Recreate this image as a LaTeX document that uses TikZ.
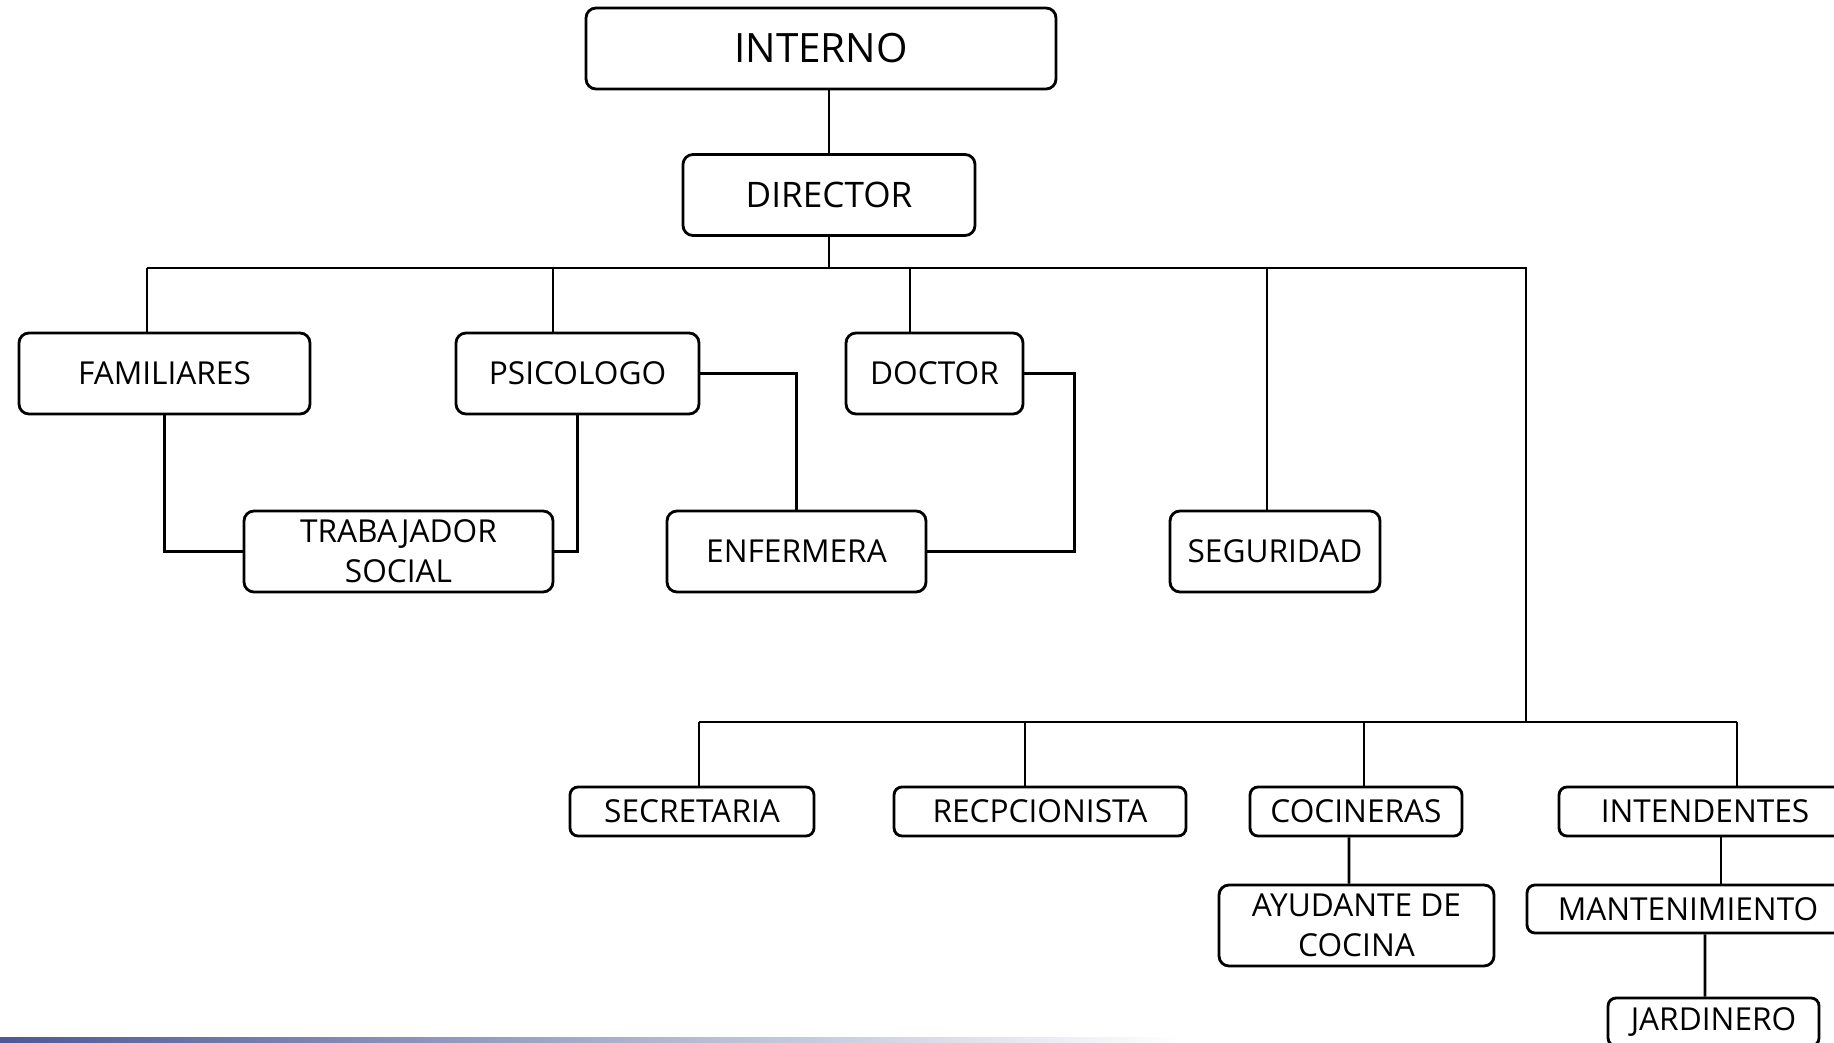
\documentclass[tikz,border=0pt]{standalone}
\usepackage{fontspec}
\setmainfont{Open Sans}
\definecolor{barra}{RGB}{78,88,150}

\begin{document}
\begin{tikzpicture}[
  caja/.style={draw, line width=0.8pt, rounded corners=0.1cm, inner sep=0pt,
    align=center, minimum height=0.81cm, font=\fontsize{9}{11.3}\selectfont},
  cajab/.style={caja, minimum height=0.49cm, rounded corners=0.08cm},
  linea/.style={line width=0.8pt}
]
\clip (0,0) rectangle (18.34,-10.43);
\fill[white] (0,0) rectangle (18.34,-10.43);
\shade[left color=barra, right color=white] (0,-10.37) rectangle (11.8,-10.43);

\node[caja, minimum width=4.70cm, font=\fontsize{11.5}{13}\selectfont] (interno) at (8.21,-0.485) {INTERNO};
\node[caja, minimum width=2.92cm, font=\fontsize{10}{12}\selectfont] (director) at (8.29,-1.95) {DIRECTOR};

\node[caja, minimum width=2.91cm] (familiares) at (1.645,-3.735) {FAMILIARES};
\node[caja, minimum width=2.43cm] (psicologo) at (5.775,-3.735) {PSICOLOGO};
\node[caja, minimum width=1.77cm] (doctor) at (9.345,-3.735) {DOCTOR};
\node[caja, minimum width=3.09cm] (trabajador) at (3.985,-5.515) {TRABAJADOR\\SOCIAL};
\node[caja, minimum width=2.59cm] (enfermera) at (7.965,-5.515) {ENFERMERA};
\node[caja, minimum width=2.10cm] (seguridad) at (12.75,-5.515) {SEGURIDAD};

\node[cajab, minimum width=2.44cm] (secretaria) at (6.92,-8.115) {SECRETARIA};
\node[cajab, minimum width=2.92cm] (recepcionista) at (10.40,-8.115) {RECPCIONISTA};
\node[cajab, minimum width=2.12cm] (cocineras) at (13.56,-8.115) {COCINERAS};
\node[cajab, minimum width=2.92cm] (intendentes) at (17.05,-8.115) {INTENDENTES};
\node[caja, minimum width=2.75cm] (ayudante) at (13.565,-9.255) {AYUDANTE DE\\COCINA};
\node[cajab, minimum width=3.22cm, minimum height=0.48cm] (mantenimiento) at (16.88,-9.09) {MANTENIMIENTO};
\node[cajab, minimum width=2.11cm, minimum height=0.48cm] (jardinero) at (17.135,-10.22) {JARDINERO};

% buses
\coordinate (b1) at (1.47,-2.68);
\coordinate (b2) at (5.53,-2.68);
\coordinate (b3) at (9.10,-2.68);
\coordinate (b4) at (12.67,-2.68);
\coordinate (b5) at (15.26,-2.68);
\coordinate (c1) at (6.99,-7.22);
\coordinate (c2) at (10.25,-7.22);
\coordinate (c3) at (13.64,-7.22);
\coordinate (c4) at (17.37,-7.22);

\draw[linea] (director.north) -- (director.north |- interno.south);
\draw[linea] (director.south) -- (director.south |- b1);
\draw[linea] (b1) -- (b5) -- (b5 |- c1);
\draw[linea] (c1) -- (c4);

\draw[linea] (b1) -- (b1 |- familiares.north);
\draw[linea] (b2) -- (b2 |- psicologo.north);
\draw[linea] (b3) -- (b3 |- doctor.north);
\draw[linea] (b4) -- (b4 |- seguridad.north);

\draw[linea] (familiares.south) |- (trabajador.west);
\draw[linea] (psicologo.south) |- (trabajador.east);
\draw[linea] (psicologo.east) -| (enfermera.north);
\draw[linea] (doctor.east) -- ++(0.50,0) |- (enfermera.east);

\draw[linea] (c1) -- (c1 |- secretaria.north);
\draw[linea] (c2) -- (c2 |- recepcionista.north);
\draw[linea] (c3) -- (c3 |- cocineras.north);
\draw[linea] (c4) -- (c4 |- intendentes.north);

\draw[linea] ([xshift=-0.07cm]cocineras.south) -- ([xshift=-0.075cm]ayudante.north);
\draw[linea] ([xshift=0.16cm]intendentes.south) -- ([xshift=0.33cm]mantenimiento.north);
\draw[linea] ([xshift=0.17cm]mantenimiento.south) -- ([xshift=-0.085cm]jardinero.north);
\end{tikzpicture}
\end{document}
